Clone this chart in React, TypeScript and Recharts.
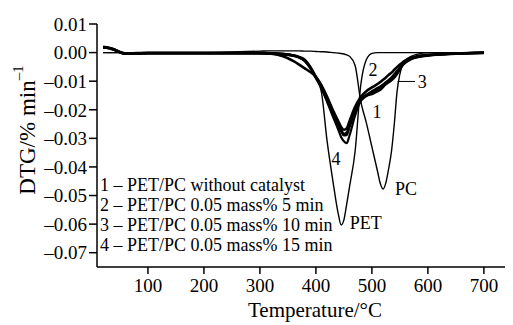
import { LineChart, Line, XAxis, YAxis, ReferenceDot, ReferenceLine, Legend } from 'recharts'

const serif = '"Liberation Serif", "Times New Roman", serif'

// temperature grid, °C
const temperatures = [
  20, 30, 40, 50, 60, 80, 100, 150, 200, 250, 300, 320, 340, 360, 370, 380, 390, 400, 410, 420,
  430, 440, 445, 450, 455, 460, 470, 480, 490, 500, 510, 515, 520, 525, 530, 535, 540, 545, 550,
  555, 560, 570, 580, 600, 620, 650, 700,
]

// 1 – PET/PC without catalyst
const curve1 = [
  0.0018, 0.0016, 0.001, 0.0001, -0.0004, -0.0003, -0.0002, -0.0002, -0.0002, -0.0002, -0.0002,
  -0.0003, -0.0005, -0.001, -0.0015, -0.0025, -0.005, -0.0085, -0.012, -0.0165, -0.021, -0.025,
  -0.027, -0.0285, -0.028, -0.0255, -0.02, -0.0165, -0.015, -0.0145, -0.0135, -0.013, -0.012,
  -0.011, -0.01, -0.009, -0.0078, -0.0065, -0.0053, -0.0042, -0.0033, -0.0022, -0.0016, -0.001,
  -0.0007, -0.0004, -0.0001,
]

// 2 – 0.05 mass% 5 min
const curve2 = [
  0.002, 0.0017, 0.0011, 0.0002, -0.0003, -0.0002, -0.0001, -0.0001, -0.0001, -0.0001, -0.0001,
  -0.0004, -0.0012, -0.003, -0.0042, -0.0055, -0.0068, -0.0085, -0.0115, -0.0155, -0.02, -0.024,
  -0.026, -0.027, -0.0265, -0.024, -0.019, -0.0155, -0.0135, -0.0122, -0.011, -0.0103, -0.0095,
  -0.0087, -0.0078, -0.007, -0.006, -0.0051, -0.0042, -0.0034, -0.0027, -0.0018, -0.0013, -0.0008,
  -0.0005, -0.0003, 0,
]

// 3 – 0.05 mass% 10 min
const curve3 = [
  0.0017, 0.0015, 0.0009, 0, -0.0005, -0.0004, -0.0003, -0.0003, -0.0003, -0.0003, -0.0003,
  -0.0004, -0.0006, -0.0012, -0.0018, -0.003, -0.0055, -0.009, -0.0125, -0.017, -0.0215, -0.0255,
  -0.0275, -0.029, -0.0288, -0.026, -0.0205, -0.017, -0.0152, -0.014, -0.0128, -0.0122, -0.0116,
  -0.011, -0.0104, -0.0097, -0.0088, -0.0075, -0.006, -0.0045, -0.0034, -0.0021, -0.0015, -0.001,
  -0.0006, -0.0003, -0.0001,
]

// 4 – 0.05 mass% 15 min
const curve4 = [
  0.0019, 0.0017, 0.0012, 0.0001, -0.0004, -0.0003, -0.0002, -0.0002, -0.0002, -0.0002, -0.0002,
  -0.0003, -0.0005, -0.001, -0.0016, -0.0028, -0.0052, -0.0088, -0.0125, -0.0172, -0.0222, -0.027,
  -0.0295, -0.031, -0.0317, -0.029, -0.022, -0.0168, -0.0148, -0.0135, -0.0124, -0.0118, -0.0111,
  -0.0103, -0.0095, -0.0086, -0.0076, -0.0065, -0.0054, -0.0044, -0.0035, -0.0023, -0.0016, -0.001,
  -0.0006, -0.0003, 0,
]

// pure PET
const pet = [
  0, 0, 0, 0, 0, 0, 0, 0, 0, 0, 0, 0, -0.0002, -0.0008, -0.0018, -0.003, -0.0052, -0.0085, -0.014,
  -0.031, -0.0445, -0.0565, -0.0603, -0.0585, -0.053, -0.047, -0.0345, -0.0115, -0.0025, -0.0003,
  0, 0, 0, 0, 0, 0, 0, 0, 0, 0, 0, 0, 0, 0, 0, 0, 0,
]

// pure PC
const pc = [
  0, 0, 0, 0, 0, 0, 0, 0, 0, 0.0002, 0.0005, 0.0006, 0.0006, 0.0006, 0.0006, 0.0005, 0.0005,
  0.0004, 0.0003, 0.0002, 0, -0.0002, -0.0003, -0.0005, -0.0008, -0.0013, -0.0045, -0.017, -0.0245,
  -0.033, -0.0415, -0.0458, -0.0477, -0.0455, -0.0405, -0.0345, -0.025, -0.0135, -0.0075, -0.0042,
  -0.0028, -0.0013, -0.0006, 0, 0, 0, 0,
]

const legendLabels = [
  '1 – PET/PC without catalyst',
  '2 – PET/PC 0.05 mass% 5 min',
  '3 – PET/PC 0.05 mass% 10 min',
  '4 – PET/PC 0.05 mass% 15 min',
]

const xTicks = [100, 200, 300, 400, 500, 600, 700]
const yTicks = [0.01, 0, -0.01, -0.02, -0.03, -0.04, -0.05, -0.06, -0.07]

const data = temperatures.map((t, i) => ({
  t,
  c1: curve1[i],
  c2: curve2[i],
  c3: curve3[i],
  c4: curve4[i],
  pet: pet[i],
  pc: pc[i],
}))

const fmtY = (v: number) => {
  const s = Math.abs(v).toFixed(2)
  return v < -1e-9 ? '–' + s : s
}

const tickStyle = { fontFamily: serif, fontSize: 19, fill: '#000' }
const noteStyle = { fontFamily: serif, fontSize: 18, fill: '#000' }

export default function App() {
  return (
    <div style={{ marginLeft: -8, marginTop: -8, background: '#fff', width: 513, height: 325 }}>
      <LineChart width={513} height={325} data={data} margin={{ top: 24, right: 0, bottom: 0, left: 0 }}>
        <XAxis
          dataKey="t"
          type="number"
          domain={[9, 752]}
          ticks={xTicks}
          allowDataOverflow
          height={58}
          tickSize={7}
          tickMargin={5}
          tick={tickStyle}
          stroke="#000"
          strokeWidth={1.5}
          label={{
            content: () => (
              <text x={315} y={317} textAnchor="middle" fontFamily={serif} fontSize={21} fill="#000">
                Temperature/°C
              </text>
            ),
          }}
        />
        <YAxis
          type="number"
          domain={[-0.075, 0.01]}
          ticks={yTicks}
          allowDataOverflow
          width={97}
          tickSize={8}
          tickFormatter={fmtY}
          tick={tickStyle}
          stroke="#000"
          strokeWidth={1.5}
          label={{
            content: () => (
              <text
                transform="translate(27, 130) rotate(-90)"
                textAnchor="middle"
                dominantBaseline="central"
                fontFamily={serif}
                fontSize={23}
                fill="#000"
              >
                DTG/% min<tspan dy={-9} fontSize={15}>–1</tspan>
              </text>
            ),
          }}
        />
        <Legend
          layout="horizontal"
          verticalAlign="middle"
          align="center"
          wrapperStyle={{ left: 100, top: 175, width: 'auto', height: 'auto' }}
          content={() => (
            <div style={{ fontFamily: serif, fontSize: 18, lineHeight: '20px', color: '#000', whiteSpace: 'nowrap' }}>
              {legendLabels.map((l) => (
                <div key={l}>{l}</div>
              ))}
            </div>
          )}
        />
        <Line dataKey="pet" type="monotone" stroke="#000" strokeWidth={1.4} dot={false} isAnimationActive={false} />
        <Line dataKey="pc" type="monotone" stroke="#000" strokeWidth={1.4} dot={false} isAnimationActive={false} />
        <Line dataKey="c1" type="monotone" stroke="#000" strokeWidth={2.6} dot={false} isAnimationActive={false} />
        <Line dataKey="c2" type="monotone" stroke="#000" strokeWidth={2.6} dot={false} isAnimationActive={false} />
        <Line dataKey="c3" type="monotone" stroke="#000" strokeWidth={2.2} dot={false} isAnimationActive={false} />
        <Line dataKey="c4" type="monotone" stroke="#000" strokeWidth={2.2} dot={false} isAnimationActive={false} />
        <ReferenceLine
          segment={[
            { x: 546, y: -0.0101 },
            { x: 577, y: -0.0101 },
          ]}
          stroke="#000"
          strokeWidth={1}
        />
        <ReferenceDot x={509} y={-0.0206} r={0} stroke="none" fill="none" label={{ value: '1', position: 'center', ...noteStyle }} />
        <ReferenceDot x={502} y={-0.006} r={0} stroke="none" fill="none" label={{ value: '2', position: 'center', ...noteStyle }} />
        <ReferenceDot x={590} y={-0.0101} r={0} stroke="none" fill="none" label={{ value: '3', position: 'center', ...noteStyle }} />
        <ReferenceDot x={436} y={-0.037} r={0} stroke="none" fill="none" label={{ value: '4', position: 'center', ...noteStyle }} />
        <ReferenceDot x={489} y={-0.0593} r={0} stroke="none" fill="none" label={{ value: 'PET', position: 'center', ...noteStyle }} />
        <ReferenceDot x={561} y={-0.0477} r={0} stroke="none" fill="none" label={{ value: 'PC', position: 'center', ...noteStyle }} />
      </LineChart>
    </div>
  )
}
